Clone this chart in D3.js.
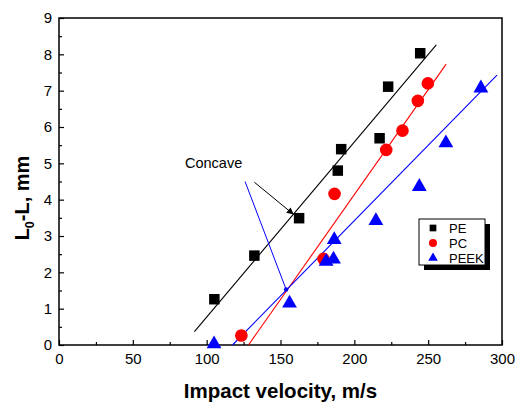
<!DOCTYPE html>
<html>
<head>
<meta charset="utf-8">
<script src="https://cdn.jsdelivr.net/npm/d3@7"></script>
<style>
  body { margin: 0; background: #fff; }
  svg { font-family: Arial, "Liberation Sans", sans-serif; }
</style>
</head>
<body>
<div id="chart"></div>
<script>
// data
const peX = [105.2, 132.3, 162.6, 188.8, 191.1, 217.1, 222.9, 244.6];
const peY = [1.26, 2.46, 3.49, 4.80, 5.39, 5.69, 7.11, 8.03];
const pcX = [123.5, 179.1, 186.6, 221.6, 232.6, 243.0, 249.8];
const pcY = [0.26, 2.37, 4.16, 5.37, 5.90, 6.72, 7.20];
const peekX = [105.0, 156.1, 180.9, 185.9, 186.4, 214.6, 244.0, 262.0, 285.7];
const peekY = [0.07, 1.19, 2.34, 2.40, 2.94, 3.46, 4.40, 5.60, 7.11];

// fitted lines (end points)
const peFit = [[91.7, 0.37], [255.5, 8.26]];
const pcFit = [[128.3, 0.0], [262.2, 7.73]];
const peekFit = [[117.5, 0.0], [296.6, 7.43]];

// annotation pointers
const arrowBlack = [[132.3, 4.48], [159.0, 3.59]];
const lineBlue = [[126.0, 4.50], [153.8, 1.53]];

const xTicks = [0, 50, 100, 150, 200, 250, 300];
const yTicks = [0, 1, 2, 3, 4, 5, 6, 7, 8, 9];
const legendNames = ["PE", "PC", "PEEK"];

const W = 527, H = 403;
const margin = { left: 59, top: 18, right: 25, bottom: 58 };

const svg = d3.select("#chart").append("svg")
  .attr("width", W)
  .attr("height", H);

const x = d3.scaleLinear().domain([0, 300]).range([margin.left, W - margin.right]);
const y = d3.scaleLinear().domain([0, 9]).range([H - margin.bottom, margin.top]);

svg.append("defs").append("marker")
  .attr("id", "arr")
  .attr("viewBox", "0 0 10 10")
  .attr("refX", 10).attr("refY", 5)
  .attr("markerWidth", 9).attr("markerHeight", 7)
  .attr("markerUnits", "userSpaceOnUse")
  .attr("orient", "auto")
  .append("path")
  .attr("d", "M0,0 L10,5 L0,10 Z")
  .attr("fill", "black");

// axes
const xAxis = svg.append("g")
  .attr("transform", "translate(0," + y(0) + ")")
  .call(d3.axisBottom(x).tickValues(xTicks).tickSizeInner(-5).tickSizeOuter(0).tickPadding(8));
svg.append("g")
  .attr("transform", "translate(0," + y(0) + ")")
  .call(d3.axisBottom(x).tickValues(d3.range(25, 300, 50)).tickSize(-3).tickFormat(""));

const yAxis = svg.append("g")
  .attr("transform", "translate(" + x(0) + ",0)")
  .call(d3.axisLeft(y).tickValues(yTicks).tickSizeInner(-5).tickSizeOuter(0).tickPadding(7));
svg.append("g")
  .attr("transform", "translate(" + x(0) + ",0)")
  .call(d3.axisLeft(y).tickValues(d3.range(0.5, 9, 1)).tickSize(-3).tickFormat(""));

svg.selectAll(".domain").remove();
svg.selectAll(".tick line").attr("stroke", "black").attr("stroke-width", 1.2);
xAxis.selectAll("text").attr("font-size", 15).attr("fill", "black");
yAxis.selectAll("text").attr("font-size", 15).attr("fill", "black");

// frame
svg.append("rect")
  .attr("x", x(0)).attr("y", y(9))
  .attr("width", x(300) - x(0)).attr("height", y(0) - y(9))
  .attr("fill", "none").attr("stroke", "black").attr("stroke-width", 1.5);

// axis titles
svg.append("text")
  .attr("x", (x(0) + x(300)) / 2)
  .attr("y", 398)
  .attr("text-anchor", "middle")
  .attr("font-size", 20.5).attr("font-weight", "bold")
  .text("Impact velocity, m/s");

const yt = svg.append("text")
  .attr("transform", "translate(29," + 198 + ") rotate(-90)")
  .attr("text-anchor", "middle")
  .attr("font-size", 20).attr("font-weight", "bold");
yt.append("tspan").text("L");
yt.append("tspan").attr("font-size", 12.5).attr("dy", 5).text("0");
yt.append("tspan").attr("dy", -5).text("-L, mm");

// fitted lines
const line = d3.line().x(d => x(d[0])).y(d => y(d[1]));
[[peFit, "black"], [pcFit, "red"], [peekFit, "blue"]].forEach(([d, c]) => {
  svg.append("path").attr("d", line(d)).attr("stroke", c).attr("stroke-width", 1.1).attr("fill", "none");
});

// markers
const sym = {
  PE: d3.symbol().type(d3.symbolSquare).size(110),
  PC: d3.symbol().type(d3.symbolCircle).size(125),
  PEEK: d3.symbol().type(d3.symbolTriangle).size(95)
};

function drawSeries(xs, ys, key, color) {
  svg.append("g").selectAll("path")
    .data(xs.map((v, i) => [v, ys[i]]))
    .enter().append("path")
    .attr("d", sym[key]())
    .attr("transform", d => "translate(" + x(d[0]) + "," + (y(d[1]) + (key === "PEEK" ? 1.5 : 0)) + ")")
    .attr("fill", color);
}
drawSeries(peX, peY, "PE", "black");
drawSeries(pcX, pcY, "PC", "red");
drawSeries(peekX, peekY, "PEEK", "blue");

// annotation
svg.append("text")
  .attr("x", 185).attr("y", 168)
  .attr("font-size", 14.5)
  .text("Concave");
svg.append("path").attr("d", line(arrowBlack))
  .attr("stroke", "black").attr("stroke-width", 1).attr("fill", "none")
  .attr("marker-end", "url(#arr)");
svg.append("path").attr("d", line(lineBlue))
  .attr("stroke", "blue").attr("stroke-width", 1).attr("fill", "none");
svg.append("circle")
  .attr("cx", x(lineBlue[1][0])).attr("cy", y(lineBlue[1][1]))
  .attr("r", 2.2).attr("fill", "blue");

// legend
const lg = svg.append("g").attr("transform", "translate(419,219)");
lg.append("rect").attr("x", 5).attr("y", 5).attr("width", 66).attr("height", 46).attr("fill", "black");
lg.append("rect").attr("x", 0).attr("y", 0).attr("width", 66).attr("height", 46)
  .attr("fill", "white").attr("stroke", "black").attr("stroke-width", 1);
const legendColors = ["black", "red", "blue"];
const legendSym = [
  d3.symbol().type(d3.symbolSquare).size(45),
  d3.symbol().type(d3.symbolCircle).size(50),
  d3.symbol().type(d3.symbolTriangle).size(40)
];
legendNames.forEach((n, i) => {
  const yy = 9 + i * 15;
  lg.append("path").attr("d", legendSym[i]()).attr("transform", "translate(14," + yy + ")").attr("fill", legendColors[i]);
  lg.append("text").attr("x", 30).attr("y", yy + 5).attr("font-size", 13).text(n);
});
</script>
</body>
</html>
